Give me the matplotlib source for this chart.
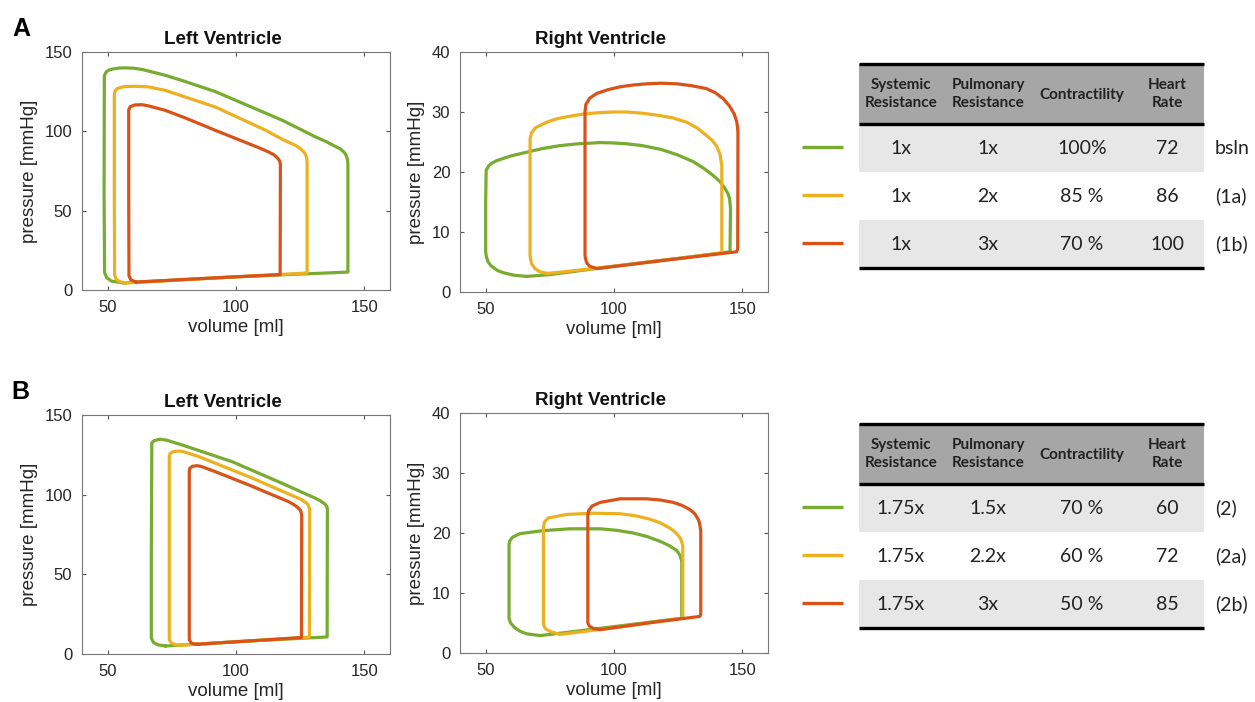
"""PV loops of left and right ventricle for two scenario sets with parameter tables"""

import matplotlib
matplotlib.use('Agg')
import matplotlib.pyplot as plt
import numpy as np
from matplotlib.patches import Rectangle

plt.rcParams['font.family'] = ['Liberation Sans', 'DejaVu Sans']

GREEN = '#77ac30'
YELLOW = '#edb120'
RED = '#d95319'
LOOP_COLORS = [GREEN, YELLOW, RED]

LV_A_BSLN = [(56, 4.5), (100, 8.3), (143.6, 11.3), (143.6, 79), (143.5, 81.5), (143.3, 83),
             (142.8, 85.3), (142, 87), (140.6, 89), (138.7, 90.5), (135, 93.6), (131, 96.5),
             (118, 107), (105, 116), (92, 125), (80, 131.5), (72.5, 135.3), (63.4, 139),
             (60, 139.8), (57, 140), (54.5, 139.9), (52, 139.3), (50.5, 138.6), (49.5, 137.6),
             (49, 136.2), (48.7, 134.5), (48.6, 60), (48.8, 11), (49.6, 7.8), (51.5, 5.6),
             (56, 4.5)]
LV_A_1A = [(57, 4.4), (100, 8.3), (127.7, 10.7), (127.7, 80), (127.6, 82.3), (127.4, 84),
           (127, 85.7), (126.4, 87), (125, 89.3), (123, 91.3), (118, 95), (111.4, 100.8),
           (92, 115.3), (72.5, 125.8), (66, 128), (60.8, 128.4), (56.5, 128.2), (54.3, 127.3),
           (53.5, 126.6), (52.9, 125.5), (52.6, 123.5), (52.6, 60), (52.7, 9.5), (53.3, 6.8),
           (54.8, 5.2), (57, 4.4)]
LV_A_1B = [(61, 5.0), (90, 7.5), (117.2, 9.7), (117.3, 78.6), (117.1, 81), (116.3, 83),
           (114.8, 85.2), (112.7, 87), (109, 89.6), (105, 92.2), (92, 100.6), (80, 108.6),
           (72.5, 113.2), (66, 116), (63.4, 116.8), (60.5, 116.6), (58.8, 115.5), (58.2, 113.5),
           (58.2, 60), (58.3, 9), (59, 6.5), (61, 5.0)]

RV_A_BSLN = [(66, 2.6), (75, 2.9), (100, 4.3), (125, 5.6), (145.2, 6.7), (145.4, 14),
             (145, 15.6), (144.4, 16.4), (143.3, 17.2), (141.3, 18.4), (138.7, 19.4),
             (135, 20.6), (131, 21.7), (124.5, 22.9), (118, 23.8), (111, 24.4), (105, 24.7),
             (99.5, 24.85), (94.6, 24.9), (86, 24.7), (79, 24.4), (72, 23.9), (66, 23.3),
             (60, 22.7), (54.3, 21.9), (52.5, 21.5), (51.3, 21.1), (50.2, 20.3), (50, 15),
             (50, 6.7), (50.3, 5.8), (51, 5), (52, 4.4), (53.5, 3.9), (55, 3.5), (57, 3.2),
             (61, 2.8), (66, 2.6)]
RV_A_1A = [(73.8, 3.1), (79, 3.3), (100, 4.3), (125, 5.6), (142, 6.5), (142, 21),
           (141.3, 23), (140, 24.3), (138.2, 25.3), (136, 26.1), (132.5, 27.3), (128.3, 28.3),
           (123, 29), (118, 29.4), (111, 29.8), (105, 30), (99.5, 30.0), (94.6, 29.9),
           (88.5, 29.7), (82.9, 29.3), (78, 28.9), (73.8, 28.3), (69.5, 27.4), (67.8, 26.5),
           (67.3, 25.5), (67.3, 6), (67.8, 4.8), (69.2, 3.9), (71, 3.4), (73.8, 3.1)]
RV_A_1B = [(93.3, 3.9), (120, 5.3), (147.8, 6.7), (148.2, 7.2), (148.3, 26.5), (148.1, 27.6),
           (147.8, 28.4), (146.8, 29.7), (145, 31), (142.6, 32.2), (139.5, 33.2), (136, 33.9),
           (130, 34.4), (124.4, 34.7), (118.5, 34.8), (112.7, 34.7), (107.5, 34.5),
           (102.4, 34.2), (97.5, 33.7), (93.3, 33.1), (90.5, 32.3), (89, 31.2), (88.7, 30),
           (88.7, 6), (89.3, 4.9), (90.5, 4.3), (93.3, 3.9)]

LV_B_2 = [(72.5, 5.0), (100, 7.7), (135.5, 10.7), (135.6, 91), (135.4, 92.5), (135, 93.5),
          (134.2, 94.6), (132.8, 96.2), (131, 97.7), (126, 101.3), (118, 107.1), (98.5, 120.7),
          (79, 131.2), (73, 134.2), (70.5, 134.8), (68.2, 134), (67.2, 132.5), (67, 60),
          (67, 10), (67.8, 7.3), (69.5, 5.8), (72.5, 5.0)]
LV_B_2A = [(78, 5.5), (100, 7.7), (128.6, 10.6), (128.7, 91), (128, 94), (127, 95.2),
           (125.3, 97.1), (123, 98.7), (105, 111.3), (85.5, 123.9), (79.5, 127), (77.7, 127.4),
           (75.5, 127), (74.3, 125.8), (74, 123.5), (74, 60), (74, 9), (74.8, 7), (76.2, 5.9),
           (78, 5.5)]
LV_B_2B = [(85, 6.1), (105, 8.2), (125.5, 10.3), (125.6, 87), (125.2, 90), (124.2, 91.8),
           (122.5, 93.8), (120.5, 95.6), (105, 106.1), (92, 114.4), (86.5, 117.7),
           (84.8, 118.2), (83, 117.8), (82, 116.5), (81.8, 114.5), (81.8, 60), (81.8, 9),
           (82.5, 7), (83.6, 6.3), (85, 6.1)]

RV_B_2 = [(71.2, 2.9), (79, 3.3), (100, 4.4), (126.4, 5.8), (126.4, 15.3), (125.7, 16.3),
          (124.4, 17.1), (121.5, 17.9), (118, 18.6), (113, 19.4), (107.5, 20), (101, 20.45),
          (94.6, 20.7), (82.9, 20.7), (72.5, 20.4), (63.4, 19.9), (60.5, 19.3), (59.4, 18.7),
          (59.1, 18), (59.1, 5.8), (59.7, 5), (61.4, 4.2), (63.5, 3.6), (66, 3.2), (71.2, 2.9)]
RV_B_2A = [(79, 3.1), (100, 4.2), (126.8, 5.8), (126.8, 17.8), (126.2, 18.8), (125.7, 19.2),
           (124, 20.1), (121.8, 20.8), (118, 21.7), (114, 22.3), (108, 22.9), (102.4, 23.2),
           (92, 23.3), (81.6, 23.1), (74.4, 22.5), (73, 21.9), (72.5, 21), (72.5, 4.8),
           (73.2, 4.1), (75, 3.6), (79, 3.1)]
RV_B_2B = [(94.6, 3.9), (115, 5.1), (133.5, 6.1), (133.8, 6.6), (133.8, 20.3), (133.4, 21.5),
           (132.9, 22.2), (131.5, 23.2), (129.6, 23.9), (126.5, 24.6), (123.1, 25.1),
           (118, 25.5), (112.7, 25.7), (102.4, 25.7), (94.6, 25.1), (91.5, 24.5), (90.2, 23.8),
           (89.8, 23), (89.8, 5), (90.4, 4.5), (91.8, 4.1), (94.6, 3.9)]

TABLE_HEADER = [['Systemic', 'Resistance'], ['Pulmonary', 'Resistance'], ['Contractility'],
                ['Heart', 'Rate']]
TABLE_A_ROWS = [['1x', '1x', '100%', '72'], ['1x', '2x', '85 %', '86'], ['1x', '3x', '70 %', '100']]
TABLE_A_LABELS = ['bsln', '(1a)', '(1b)']
TABLE_B_ROWS = [['1.75x', '1.5x', '70 %', '60'], ['1.75x', '2.2x', '60 %', '72'],
                ['1.75x', '3x', '50 %', '85']]
TABLE_B_LABELS = ['(2)', '(2a)', '(2b)']

W, H = 1255, 702
fig = plt.figure(figsize=(W / 100, H / 100), dpi=100)


def px_rect(left, top, right, bottom):
    """Положение осей в долях фигуры по пиксельным границам"""
    return [left / W, 1 - bottom / H, (right - left) / W, (bottom - top) / H]


def pv_axes(rect, title, ymax, yticks, loops):
    ax = fig.add_axes(rect)
    for loop, color in zip(loops, LOOP_COLORS):
        v, p = np.array(loop).T
        ax.plot(v, p, color=color, lw=2.3, solid_joinstyle='round', solid_capstyle='round')
    ax.set_xlim(40, 160)
    ax.set_ylim(0, ymax)
    ax.set_xticks([50, 100, 150])
    ax.set_yticks(yticks)
    ax.tick_params(direction='in', top=True, right=True, length=3, width=0.8, color='#555555',
                   labelsize=12, labelcolor='#262626', pad=7)
    for s in ax.spines.values():
        s.set_color('#777777')
        s.set_linewidth(0.8)
    ax.set_title(title, fontweight='bold', fontsize=13.5, x=0.457, pad=6, color='#111111')
    ax.set_xlabel('volume [ml]', fontsize=13.5, color='#262626', labelpad=3)
    ax.set_ylabel('pressure [mmHg]', fontsize=13.5, color='#262626', labelpad=5)
    return ax


pv_axes(px_rect(82, 52, 390, 290), 'Left Ventricle', 150, [0, 50, 100, 150],
        [LV_A_BSLN, LV_A_1A, LV_A_1B])
pv_axes(px_rect(460, 52, 768, 292), 'Right Ventricle', 40, [0, 10, 20, 30, 40],
        [RV_A_BSLN, RV_A_1A, RV_A_1B])
pv_axes(px_rect(82, 415, 390, 654), 'Left Ventricle', 150, [0, 50, 100, 150],
        [LV_B_2, LV_B_2A, LV_B_2B])
pv_axes(px_rect(460, 413, 768, 653), 'Right Ventricle', 40, [0, 10, 20, 30, 40],
        [RV_B_2, RV_B_2A, RV_B_2B])

# таблицы рисуются в пиксельных координатах
tab = fig.add_axes([0, 0, 1, 1], zorder=-1)
tab.set_xlim(0, W)
tab.set_ylim(H, 0)
tab.axis('off')

fig.text(21 / W, 1 - 29 / H, 'A', fontsize=18, fontweight='bold', ha='center', va='center')
fig.text(20 / W, 1 - 392 / H, 'B', fontsize=18, fontweight='bold', ha='center', va='center')

COL_X = [901, 988, 1082, 1167]
X0, X1 = 859, 1204
TFONT = ['Lato', 'DejaVu Sans']


def draw_table(top, rows, labels):
    head_bottom = top + 60
    row_h = 48
    tab.add_patch(Rectangle((X0, top), X1 - X0, 60, color='#a6a6a6', lw=0))
    for i in (0, 2):
        tab.add_patch(Rectangle((X0, head_bottom + i * row_h), X1 - X0, row_h,
                                color='#e7e7e7', lw=0))
    bottom = head_bottom + 3 * row_h
    for y in (top, head_bottom, bottom):
        tab.plot([X0, X1], [y, y], color='black', lw=2.4, solid_capstyle='butt')
    for x, lines in zip(COL_X, TABLE_HEADER):
        if len(lines) == 2:
            tab.text(x, top + 21, lines[0], ha='center', va='center', fontsize=11,
                     fontweight='bold', family=TFONT, color='#222222')
            tab.text(x, top + 39, lines[1], ha='center', va='center', fontsize=11,
                     fontweight='bold', family=TFONT, color='#222222')
        else:
            tab.text(x, top + 31, lines[0], ha='center', va='center', fontsize=11,
                     fontweight='bold', family=TFONT, color='#222222')
    for i, (row, label, color) in enumerate(zip(rows, labels, LOOP_COLORS)):
        yc = head_bottom + (i + 0.5) * row_h
        for x, val in zip(COL_X, row):
            tab.text(x, yc, val, ha='center', va='center', fontsize=14, family=TFONT,
                     color='#222222')
        tab.text(1215, yc, label, ha='left', va='center', fontsize=14, family=TFONT,
                 color='#222222')
        tab.plot([802, 843], [yc - 1, yc - 1], color=color, lw=2.4, solid_capstyle='butt')


draw_table(64, TABLE_A_ROWS, TABLE_A_LABELS)
draw_table(424, TABLE_B_ROWS, TABLE_B_LABELS)

fig.savefig('out.png', dpi=100)
